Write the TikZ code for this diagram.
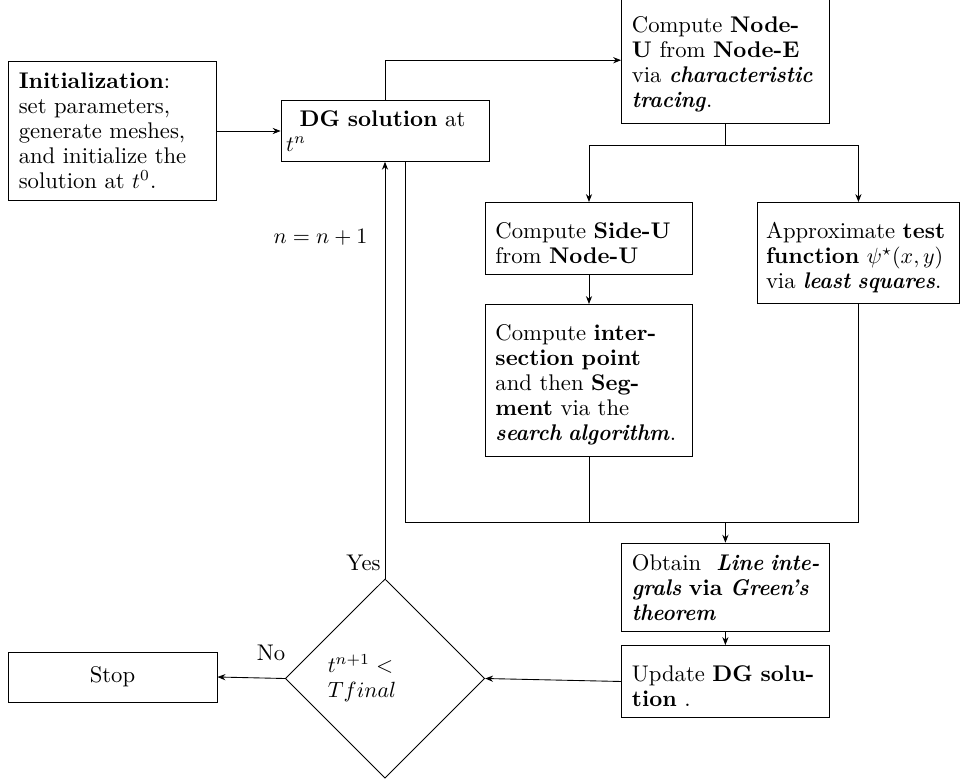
\documentclass[tikz,border=0pt]{standalone}
\usepackage{graphicx}
\usetikzlibrary{arrows.meta,shapes.geometric}
\newcommand\xtopgap{\rule{0pt}{11.3pt}}
\newcommand\oneline[1]{\mbox{#1}}
\newcommand\bfit[1]{\scalebox{0.93}[1]{\textit{\textbf{#1}}}}
\begin{document}
\begin{tikzpicture}[x=0.4545pt,y=-0.4545pt,
  >={Stealth[length=3.6pt,width=2.8pt]},
  every node/.style={font=\fontsize{10.3}{11.4}\selectfont},
  flowbox/.style={draw, rectangle, text width=85pt, inner xsep=4.7pt, inner ysep=5pt, align=left},
  lbl/.style={inner sep=0pt}]
\useasboundingbox (0,0) rectangle (960,782);
% boxes
\node[flowbox, anchor=west] (init) at (8,131)
  {\oneline{\textbf{Initialization}:}\\\oneline{set parameters,}\\\oneline{generate meshes,}\\\oneline{and initialize the}\\\oneline{solution at $t^0$.}};
\node[flowbox, inner xsep=2.3pt, text width=89.9pt, inner ysep=4.5pt] (dg) at (385,131)
  {\hspace*{6.2pt}\textbf{DG solution} at\\$t^n$};
\node[flowbox, anchor=south] (nodeE) at (725.4,124)
  {\xtopgap\oneline{Compute \textbf{Node-}}\\\oneline{\textbf{U} from \textbf{Node-E}}\\\oneline{via \bfit{characteristic}}\\\oneline{\bfit{tracing}.}};
\node[flowbox, anchor=north] (sideU) at (589,202)
  {\xtopgap\oneline{Compute \textbf{Side-U}}\\\oneline{from \textbf{Node-U}}};
\node[flowbox, anchor=north west, text width=84pt, inner xsep=3.9pt] (test) at (757,202)
  {\xtopgap\oneline{Approximate \textbf{test}}\\\oneline{\textbf{function} $\psi^\star(x,y)$}\\\oneline{via \bfit{least squares}.}};
\node[flowbox, anchor=north] (inter) at (589,304)
  {\xtopgap\oneline{Compute \textbf{inter-}}\\\oneline{\textbf{section point}}\\\oneline{and then \textbf{Seg-}}\\\oneline{\textbf{ment} via the}\\\oneline{\bfit{search algorithm}.}};
\node[flowbox, anchor=north] (obtain) at (725.4,542.7)
  {\oneline{Obtain\ \ \bfit{Line inte-}}\\\oneline{\bfit{grals} \textbf{via} \bfit{Green's}}\\\oneline{\bfit{theorem}}};
\node[flowbox, anchor=north] (update) at (725.4,645)
  {\xtopgap\oneline{Update \textbf{DG solu-}}\\\oneline{\textbf{tion} .}};
\node[draw, diamond, minimum width=90.6pt, minimum height=90.5pt, inner sep=0pt,
      text width=52pt, align=left] (dec) at (385,678.5) {$t^{n+1} <$\\$Tfinal$};
\node[draw, rectangle, minimum width=95pt, minimum height=22.7pt, inner sep=0pt] (stop) at (112.5,677) {Stop};
% labels
\node[lbl] (yes) at (363.5,563) {Yes};
\node[lbl] (no) at (271,653) {No};
\node[lbl] (nn) at (320.5,237) {$n = n+1$};
% connectors
\coordinate (split) at (725.4,145);
\coordinate (merge) at (725.4,522);
\draw[->] (init.east) -- (dg.west);
\draw[->] (dg.north) |- (nodeE.west);
\draw (nodeE.south) -- (split);
\draw[->] (split) -| (sideU.north);
\draw[->] (split) -| (test.north);
\draw[->] (sideU.south) -- (inter.north);
\draw ([xshift=9.5pt]dg.south) |- (merge);
\draw (inter.south) |- (merge);
\draw (test.south) |- (merge);
\draw[->] (merge) -- (obtain.north);
\draw[->] (obtain.south) -- (update.north);
\draw[->] (update.west) -- (dec.east);
\draw[->] (dec.west) -- (stop.east);
\draw[->] (dec.north) -- (dg.south);
\end{tikzpicture}
\end{document}
